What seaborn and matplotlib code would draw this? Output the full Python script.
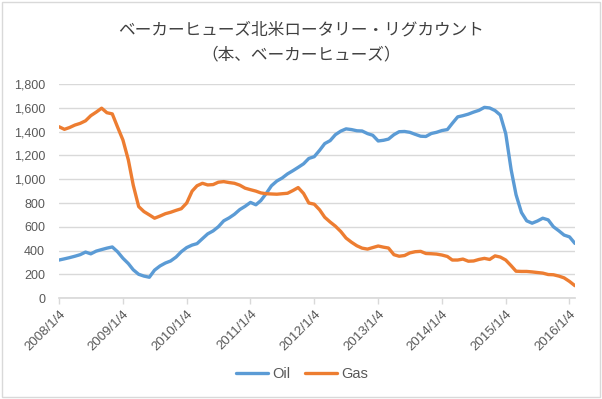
import matplotlib
matplotlib.use("Agg")
import matplotlib.pyplot as plt
import pandas as pd
import seaborn as sns

# monthly readings of the US rotary rig count (Baker Hughes), Jan 2008 - Feb 2016
oil = [320, 330, 340, 352, 365, 387, 372, 395, 408, 420, 430, 390,
       335, 290, 238, 200, 185, 175, 235, 270, 295, 312, 345, 390,
       425, 446, 458, 500, 540, 565, 600, 650, 675, 705, 745, 772,
       805, 785, 820, 880, 945, 985, 1010, 1045, 1072, 1100, 1130, 1175,
       1190, 1244, 1300, 1325, 1375, 1405, 1424, 1418, 1408, 1406, 1384, 1370,
       1322, 1328, 1338, 1375, 1400, 1402, 1395, 1378, 1362, 1360, 1385, 1395,
       1410, 1418, 1470, 1525, 1535, 1548, 1565, 1580, 1605, 1600, 1578, 1540,
       1384, 1080, 870, 720, 650, 630, 648, 672, 658, 600, 566, 530,
       515, 460]
gas = [1442, 1420, 1435, 1456, 1470, 1492, 1535, 1565, 1598, 1560, 1550, 1440,
       1330, 1162, 950, 770, 728, 700, 672, 690, 710, 722, 738, 752,
       800, 900, 945, 966, 952, 955, 975, 980, 972, 966, 950, 925,
       912, 900, 885, 878, 876, 874, 878, 882, 905, 930, 880, 800,
       790, 742, 680, 640, 605, 560, 505, 470, 440, 420, 412, 425,
       438, 428, 421, 365, 352, 358, 380, 390, 393, 375, 373, 370,
       362, 350, 320, 320, 328, 310, 312, 325, 334, 325, 355, 345,
       320, 272, 226, 224, 224, 220, 215, 210, 198, 196, 185, 170,
       140, 104]
dates = pd.date_range("2008-01-04", periods=len(oil), freq=pd.DateOffset(months=1))
tick_labels = ["2008/1/4", "2009/1/4", "2010/1/4", "2011/1/4", "2012/1/4",
               "2013/1/4", "2014/1/4", "2015/1/4", "2016/1/4"]
title1 = "ベーカーヒューズ北米ロータリー・リグカウント"
title2 = "（本、ベーカーヒューズ）"

df = pd.DataFrame({"date": list(dates) * 2,
                   "rigs": oil + gas,
                   "series": ["Oil"] * len(oil) + ["Gas"] * len(gas)})

sns.set_theme(style="white")
plt.rcParams["font.family"] = ["Liberation Sans", "Noto Sans CJK JP"]
grey = "#595959"

fig = plt.figure(figsize=(6.02, 3.99), dpi=100)
ax = fig.add_axes([0.098, 0.253, 0.857, 0.536])
sns.lineplot(data=df, x="date", y="rigs", hue="series", ax=ax,
             palette={"Oil": "#5B9BD5", "Gas": "#ED7D31"}, linewidth=2.4)

ax.set_xlim(dates[0], dates[-1])
ax.set_ylim(0, 1800)
ax.set_yticks(range(0, 1801, 200))
ax.set_yticklabels([f"{v:,}" for v in range(0, 1801, 200)])
ax.yaxis.grid(True, color="#d9d9d9", linewidth=1)
ax.set_xticks(pd.to_datetime(tick_labels, format="%Y/%m/%d"))
ax.set_xticklabels(tick_labels, rotation=45, ha="right", rotation_mode="anchor")
ax.tick_params(axis="y", length=0, pad=10, labelsize=9, labelcolor=grey)
ax.tick_params(axis="x", length=4, width=1, color="#d9d9d9", direction="out",
               pad=3, labelsize=9.5, labelcolor=grey, bottom=True)
for side in ["top", "right", "left"]:
    ax.spines[side].set_visible(False)
ax.spines["bottom"].set_color("#d9d9d9")
ax.set_xlabel("")
ax.set_ylabel("")

ax.legend_.remove()
handles, labels = ax.get_legend_handles_labels()
fig.legend(handles, labels, loc="center", bbox_to_anchor=(0.502, 0.062), ncol=2,
           frameon=False, fontsize=10.5, labelcolor=grey, handlelength=2.2,
           columnspacing=1.0, handletextpad=0.3)

fig.text(0.5, 0.925, title1, ha="center", va="center", fontsize=12,
         color="#404040", family=["Noto Sans CJK JP", "DejaVu Sans"])
fig.text(0.5, 0.862, title2, ha="center", va="center", fontsize=12,
         color="#404040", family=["Noto Sans CJK JP", "DejaVu Sans"])

fig.patches.append(plt.Rectangle((0.004, 0.004), 0.992, 0.992, transform=fig.transFigure,
                                 fill=False, edgecolor="#d9d9d9", linewidth=1))
fig.savefig("out.png", dpi=100)
